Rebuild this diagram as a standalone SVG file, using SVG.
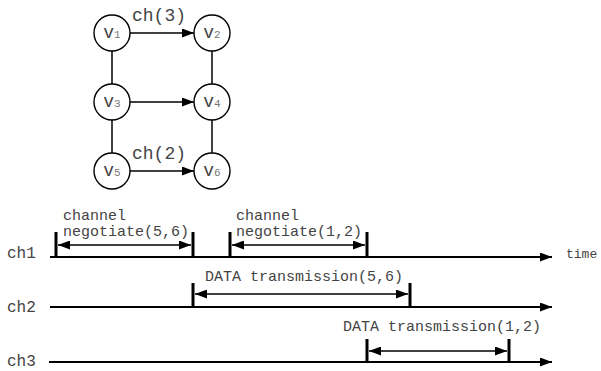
<svg xmlns="http://www.w3.org/2000/svg" width="601" height="371" viewBox="0 0 601 371">
<defs>
<style>
.node circle{fill:#fff;stroke:#000;stroke-width:1.4}
.lbl{font-family:"Liberation Mono","Courier New",monospace;fill:#444}
.nv{font-size:18px;text-anchor:middle}
.sub{font-size:11px;fill:#777}
.edge{stroke:#000;stroke-width:1.5;fill:none}
.tl{stroke:#000;stroke-width:2;fill:none}
.tick{stroke:#000;stroke-width:3}
.dur{stroke:#000;stroke-width:1.5;fill:none}
</style>
<marker id="ah" markerUnits="userSpaceOnUse" markerWidth="12" markerHeight="9" refX="12" refY="4.5" orient="auto-start-reverse" viewBox="0 0 12 9">
<path d="M0,0 L12,4.5 L0,9 z" fill="#000"/>
</marker>
</defs>
<g id="node-v1" class="node"><circle cx="112" cy="33" r="18"/><text class="lbl nv" x="112" y="38">v<tspan class="sub">1</tspan></text></g>
<g id="node-v2" class="node"><circle cx="212" cy="33" r="18"/><text class="lbl nv" x="212" y="38">v<tspan class="sub">2</tspan></text></g>
<g id="node-v3" class="node"><circle cx="112" cy="102" r="18"/><text class="lbl nv" x="112" y="107">v<tspan class="sub">3</tspan></text></g>
<g id="node-v4" class="node"><circle cx="212" cy="102" r="18"/><text class="lbl nv" x="212" y="107">v<tspan class="sub">4</tspan></text></g>
<g id="node-v5" class="node"><circle cx="112" cy="171" r="18"/><text class="lbl nv" x="112" y="176">v<tspan class="sub">5</tspan></text></g>
<g id="node-v6" class="node"><circle cx="212" cy="171" r="18"/><text class="lbl nv" x="212" y="176">v<tspan class="sub">6</tspan></text></g>
<g id="connectors">
<line class="edge" x1="130" y1="33" x2="194" y2="33" marker-end="url(#ah)"/>
<line class="edge" x1="130" y1="102" x2="194" y2="102" marker-end="url(#ah)"/>
<line class="edge" x1="130" y1="171" x2="194" y2="171" marker-end="url(#ah)"/>
<line class="edge" x1="112" y1="51" x2="112" y2="84"/>
<line class="edge" x1="212" y1="51" x2="212" y2="84"/>
<line class="edge" x1="112" y1="120" x2="112" y2="153"/>
<line class="edge" x1="212" y1="120" x2="212" y2="153"/>
</g>
<text class="lbl" x="132" y="21" font-size="18">ch(3)</text>
<text class="lbl" x="132" y="159" font-size="18">ch(2)</text>
<g id="timeline">
<text class="lbl" x="7" y="258" font-size="16">ch1</text>
<text class="lbl" x="7" y="312" font-size="16">ch2</text>
<text class="lbl" x="7" y="366" font-size="16">ch3</text>
<line class="tl" x1="50" y1="257" x2="552" y2="257" marker-end="url(#ah)"/>
<line class="tl" x1="50" y1="307" x2="552" y2="307" marker-end="url(#ah)"/>
<line class="tl" x1="49" y1="362" x2="552" y2="362" marker-end="url(#ah)"/>
<text class="lbl" x="566" y="258" font-size="13">time</text>
<line class="tick" x1="56" y1="232" x2="56" y2="258"/>
<line class="tick" x1="193" y1="232" x2="193" y2="258"/>
<line class="tick" x1="230" y1="232" x2="230" y2="258"/>
<line class="tick" x1="367" y1="232" x2="367" y2="258"/>
<line class="dur" x1="58" y1="245" x2="191" y2="245" marker-start="url(#ah)" marker-end="url(#ah)"/>
<line class="dur" x1="232" y1="245" x2="365" y2="245" marker-start="url(#ah)" marker-end="url(#ah)"/>
<text class="lbl" x="63" y="220" font-size="15">channel</text>
<text class="lbl" x="63" y="236" font-size="15">negotiate(5,6)</text>
<text class="lbl" x="236" y="220" font-size="15">channel</text>
<text class="lbl" x="236" y="236" font-size="15">negotiate(1,2)</text>
<line class="tick" x1="193" y1="283" x2="193" y2="308"/>
<line class="tick" x1="410" y1="283" x2="410" y2="308"/>
<line class="dur" x1="195" y1="294" x2="408" y2="294" marker-start="url(#ah)" marker-end="url(#ah)"/>
<text class="lbl" x="205" y="281" font-size="15">DATA transmission(5,6)</text>
<line class="tick" x1="367" y1="339" x2="367" y2="363"/>
<line class="tick" x1="509" y1="339" x2="509" y2="363"/>
<line class="dur" x1="369" y1="351" x2="507" y2="351" marker-start="url(#ah)" marker-end="url(#ah)"/>
<text class="lbl" x="343" y="331" font-size="15">DATA transmission(1,2)</text>
</g>
</svg>
